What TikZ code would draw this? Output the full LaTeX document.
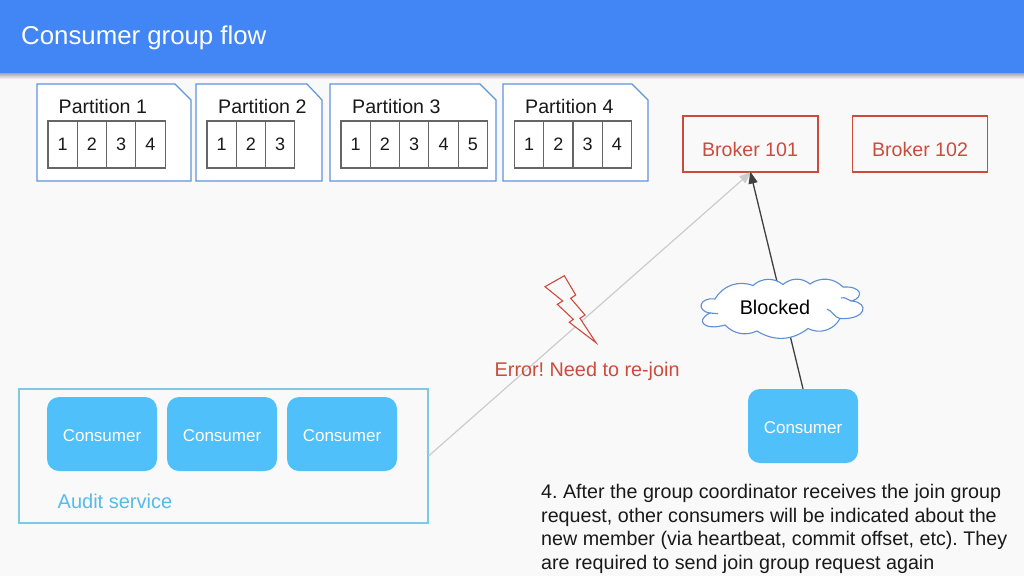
\documentclass[tikz,border=0pt]{standalone}
\usepackage{fontspec}
\setmainfont{Liberation Sans}
\usetikzlibrary{arrows.meta}
\definecolor{bgc}{HTML}{F9F9F9}
\definecolor{barc}{HTML}{4285F4}
\definecolor{partc}{HTML}{5F95DC}
\definecolor{cellc}{HTML}{666666}
\definecolor{redc}{HTML}{CC4B3C}
\definecolor{consc}{HTML}{4FC0F9}
\definecolor{auditc}{HTML}{7FC8E6}
\definecolor{audittext}{HTML}{55BBEA}
\definecolor{cloudc}{HTML}{5B8FD6}
\newcommand{\fs}[1]{\fontsize{#1}{#1}\selectfont}
\newcommand{\constext}{\raisebox{-1.5pt}[12pt][0pt]{Consumer}}
\tikzset{
  partbox/.style={draw=partc,line width=1.2pt,fill=white,line join=miter},
  cell/.style={draw=cellc,line width=1.1pt,fill=white,minimum width=29.3pt,minimum height=47pt,inner sep=0pt,font=\fs{18},text=black!90},
  partlabel/.style={font=\fs{19.6},text=black!90,inner sep=0pt,anchor=base west},
  broker/.style={draw=redc,line width=1.1pt,minimum width=135pt,minimum height=56pt,inner sep=0pt,text=redc,font=\fs{19.6},text depth=0pt},
  brokertext/.style={anchor=base,inner sep=0pt,text=redc,font=\fs{19.6}},
  consumer/.style={fill=consc,rounded corners=12pt,minimum width=110pt,minimum height=74pt,inner sep=0pt,text=white,font=\fs{17}},
  gtip/.style={-{Triangle[length=12pt,width=9pt]}},
}
\begin{document}
\begin{tikzpicture}[x=1pt,y=-1pt]
\frenchspacing
\useasboundingbox (0,0) rectangle (1024,576);
\fill[bgc] (0,0) rectangle (1024,576);
% header
\shade[top color=black!40,bottom color=bgc] (0,72) rectangle (1024,79);
\fill[barc] (0,0) rectangle (1024,73);
\node[anchor=base west,inner sep=0pt,text=white,font=\fs{25.8}] (title) at (21,44) {Consumer group flow};
% partitions
\draw[partbox] (37,84) -- (175,84) -- (191,100) -- (191,181) -- (37,181) -- cycle;
\draw[partbox] (196,84) -- (307,84) -- (322,100) -- (322,181) -- (196,181) -- cycle;
\draw[partbox] (330,84) -- (480,84) -- (496,100) -- (496,181) -- (330,181) -- cycle;
\draw[partbox] (503,84) -- (632,84) -- (648,100) -- (648,181) -- (503,181) -- cycle;
\node[partlabel] (p1) at (58.5,113) {Partition 1};
\node[partlabel] (p2) at (218,113) {Partition 2};
\node[partlabel] (p3) at (352,113) {Partition 3};
\node[partlabel] (p4) at (525,113) {Partition 4};
\foreach \n/\x in {1/62.6,2/91.9,3/121.2,4/150.5}{\node[cell] (a\n) at (\x,144.5) {\n};}
\foreach \n/\x in {1/221.6,2/250.9,3/280.2}{\node[cell] (b\n) at (\x,144.5) {\n};}
\foreach \n/\x in {1/355.6,2/384.9,3/414.2,4/443.5,5/472.8}{\node[cell] (c\n) at (\x,144.5) {\n};}
\foreach \n/\x in {1/529,2/558.3,3/587.6,4/616.9}{\node[cell] (d\n) at (\x,144.5) {\n};}
% brokers
\node[broker] (br1) at (750.5,144) {};
\node[broker] (br2) at (920.2,144) {};
\node[brokertext] (t1) at (750,156) {Broker 101};
\node[brokertext] (t2) at (920,156) {Broker 102};
% audit
\node[draw=auditc,line width=1.1pt,minimum width=409pt,minimum height=134pt,inner sep=0pt] (audit) at (223.5,456) {};
\node[consumer] (k1) at (102,434) {\constext};
\node[consumer] (k2) at (222,434) {\constext};
\node[consumer] (k3) at (342,434) {\constext};
\node[anchor=base west,inner sep=0pt,text=audittext,font=\fs{20}] (audittxt) at (57.5,508) {Audit service};
\node[consumer] (k4) at (803,426) {\constext};
% connectors
\draw[black!20,line width=1.2pt,gtip,shorten >=-1pt] (audit.east) -- (br1.south);
\draw[black!75,line width=1.3pt,gtip,shorten >=-1pt] (k4.north) -- (br1.south);
% lightning
\draw[redc,fill=bgc,line width=1.1pt,line join=miter] (545,286.7) -- (564.3,275.7) -- (575.7,295) -- (570.7,298.3) -- (585,315) -- (580,318.3) -- (596,342.7) -- (569.3,322.3) -- (573.3,319.3) -- (557.3,304.3) -- (562.7,301) -- cycle;
\node[anchor=base west,inner sep=0pt,text=redc,font=\fs{19.8}] (err) at (494.5,376) {Error! Need to re-join};
% cloud
\draw[cloudc,fill=white,line width=1.1pt]
 (710,313) .. controls (696,311) and (699,297) .. (715,299)
 to[bend left=40] (753,285.5) to[bend left=40] (783,284.5) to[bend left=40] (810,284)
 to[bend left=40] (843,287) .. controls (862,286) and (864,297) .. (852,301)
 .. controls (870,303) and (866,320) .. (840,318.5)
 to[bend left=45] (808,328.5) to[bend left=35] (757,331) to[bend left=35] (725,325)
 .. controls (705,331) and (694,321) .. (710,313) -- cycle;
\draw[cloudc,line width=1.1pt] (710,313) -- (718,313.7);
\draw[cloudc,line width=1.1pt] (840,318.5) to[out=170,in=-20] (827,309);
\draw[cloudc,line width=1.1pt] (852,301) to[out=170,in=20] (841,298);
\node[inner sep=0pt,text=black,font=\fs{19.8}] (blk) at (775,307) {Blocked};
% note
\node[anchor=north west,inner sep=0pt,align=left,text=black!90,font=\fontsize{19.7}{23.6}\selectfont] (note) at (541,484)
 {4. After the group coordinator receives the join group\\request, other consumers will be indicated about the\\new member (via heartbeat, commit offset, etc). They\\are required to send join group request again};
\end{tikzpicture}
\end{document}
